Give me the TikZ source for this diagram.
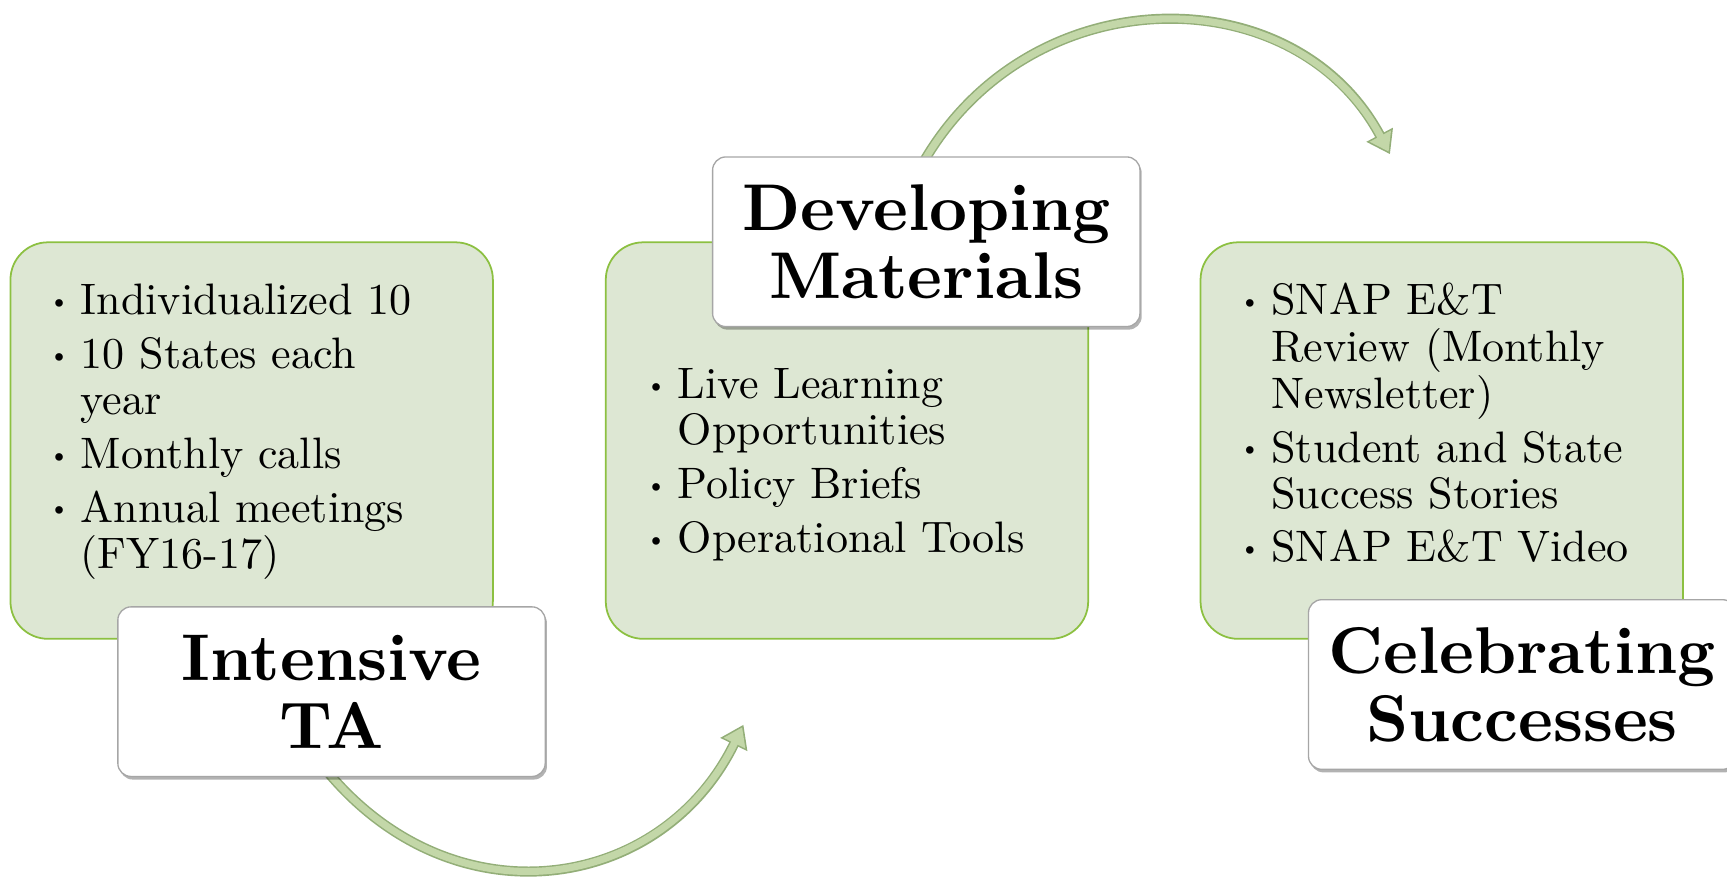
\documentclass[tikz,border=0pt]{standalone}
\usepackage{fontspec}
\setmainfont{lmroman10-regular.otf}[BoldFont = lmroman10-bold.otf]
\usepackage{tikz}
\usetikzlibrary{arrows.meta,shadows,backgrounds}

\definecolor{boxfill}{HTML}{DDE7D3}
\definecolor{boxedge}{HTML}{8CC041}
\definecolor{arrowfill}{HTML}{C3D7A8}
\definecolor{arrowedge}{HTML}{93AE78}
\definecolor{headedge}{HTML}{A6A6A6}

\newcommand{\dotitem}{\makebox[11.5pt][l]{\hspace*{-3pt}\raisebox{2.3pt}{\scalebox{0.6}{\textbullet}}}}
\newcommand{\indentitem}{\hspace*{11.5pt}}

\begin{document}
\begin{tikzpicture}[
  x = 0.5pt, y = 0.5pt,
  greenbox/.style = {draw = boxedge, fill = boxfill, line width = 0.8pt,
    rounded corners = 17pt, minimum width = 219pt, minimum height = 180pt},
  headbox/.style = {draw = headedge, fill = white, line width = 0.6pt,
    rounded corners = 6pt, minimum width = 194pt, minimum height = 77pt,
    align = center, font = \fontsize{30}{31}\selectfont\bfseries,
    drop shadow = {shadow xshift = 0.8pt, shadow yshift = -1.4pt,
      fill = black, opacity = 0.3}},
  items/.style = {anchor = base west, inner sep = 0pt,
    font = \fontsize{20}{20.9}\selectfont},
  flowedge/.style = {draw = arrowedge, line width = 4.6pt, shorten <= -8pt,
    -{Triangle[width = 13pt, length = 10pt]}},
  flowfill/.style = {draw = arrowfill, line width = 3.2pt, shorten <= -8pt,
    shorten >= 1.3pt, -{Triangle[width = 10.4pt, length = 8pt]}}
]

\useasboundingbox (0,0) rectangle (1568,798);

% heading boxes
\node [headbox] (ta)  at (301,170)    {Intensive\\TA};
\node [headbox] (dev) at (841,578.5)  {Developing\\Materials};
\node [headbox] (cel) at (1382,176.5) {Celebrating\\Successes};

\coordinate (tipA) at (675,140);
\coordinate (tipB) at (1262,658);

\begin{scope}[on background layer]
  % content boxes
  \node [greenbox] (tabox)  at (228.5,398) {};
  \node [greenbox] (devbox) at (769,398)   {};
  \node [greenbox] (celbox) at (1309,398)  {};

  % arrows
  \draw [flowedge] (ta.south) to [out = -52, in = -116, looseness = 1.16] (tipA);
  \draw [flowfill] (ta.south) to [out = -52, in = -116, looseness = 1.16] (tipA);
  \draw [flowedge] (dev.north) to [out = 62, in = 118, looseness = 1.13] (tipB);
  \draw [flowfill] (dev.north) to [out = 62, in = 118, looseness = 1.13] (tipB);
\end{scope}

\node [items] (taitems) at (50,512.2) {\begin{tabular}[t]{@{}l@{}}
  \dotitem Individualized 10\\[3.5pt]
  \dotitem 10 States each\\
  \indentitem year\\[3.5pt]
  \dotitem Monthly calls\\[3.5pt]
  \dotitem Annual meetings\\
  \indentitem (FY16-17)
\end{tabular}};

\node [items] (devitems) at (592,436) {\begin{tabular}[t]{@{}l@{}}
  \dotitem Live Learning\\
  \indentitem Opportunities\\[3.5pt]
  \dotitem Policy Briefs\\[3.5pt]
  \dotitem Operational Tools
\end{tabular}};

\node [items] (celitems) at (1131,512.4) {\begin{tabular}[t]{@{}l@{}}
  \dotitem SNAP E\&T\\
  \indentitem Review (Monthly\\
  \indentitem Newsletter)\\[3.5pt]
  \dotitem Student and State\\
  \indentitem Success Stories\\[3.5pt]
  \dotitem SNAP E\&T Video
\end{tabular}};

\end{tikzpicture}
\end{document}
